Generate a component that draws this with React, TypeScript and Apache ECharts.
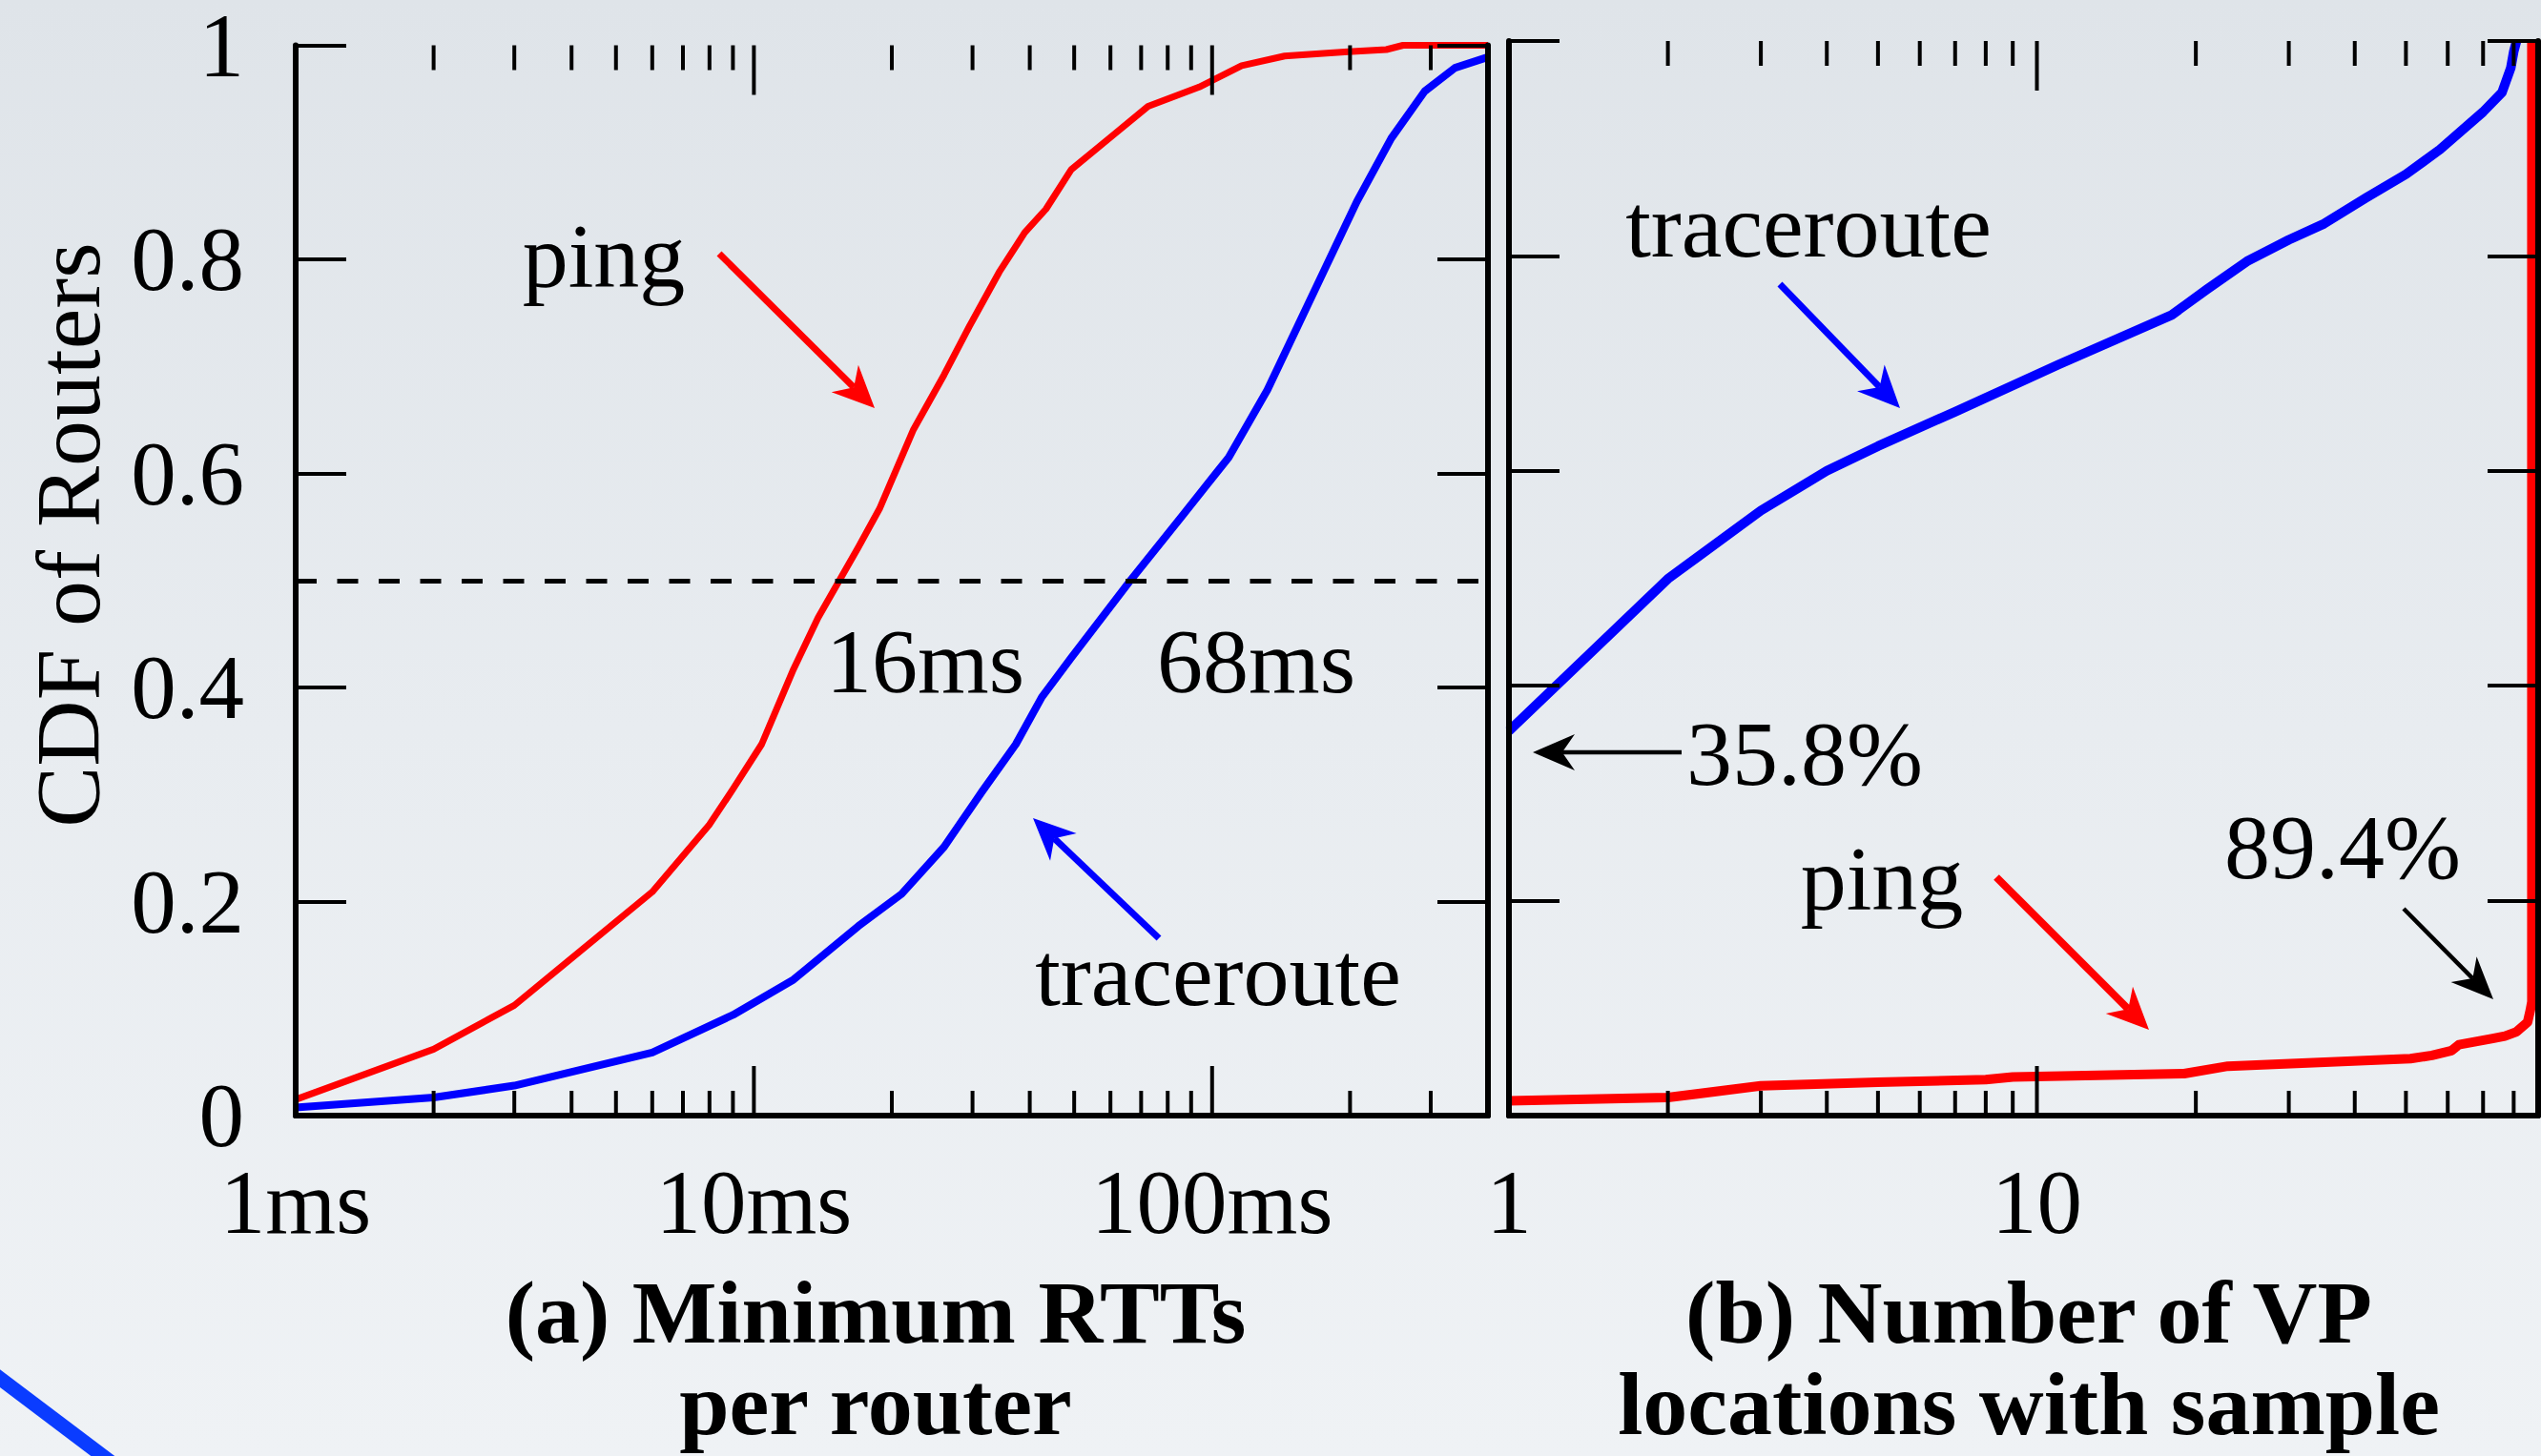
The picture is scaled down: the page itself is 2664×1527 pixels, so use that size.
import React, { useEffect, useRef } from 'react';
import * as echarts from 'echarts';

const FONT = "'Liberation Serif', 'Times New Roman', serif";
const RED = '#ff0000';
const BLUE = '#0000ff';

// (a) Minimum RTTs per router (ms -> CDF)
const rttTickLabels = ['1ms', '10ms', '100ms'];
const rttMajorTicks = [10, 100];
const rttMinorTicks = [2, 3, 4, 5, 6, 7, 8, 9, 20, 30, 40, 50, 60, 70, 80, 90, 200, 300];
const pingRttMs = [1, 2, 3, 6, 8, 9, 10.4, 12.2, 13.8, 16.9, 18.8, 22.3, 26, 29.5, 34.3, 39, 43.4, 49.3, 61.2, 72.5, 93.7, 116, 144, 198, 240, 261, 400];
const pingRttCdf = [0.015, 0.062, 0.103, 0.209, 0.272, 0.305, 0.347, 0.417, 0.465, 0.531, 0.567, 0.641, 0.692, 0.737, 0.788, 0.825, 0.847, 0.884, 0.917, 0.943, 0.961, 0.981, 0.99, 0.994, 0.996, 1.0, 1.0];
const traceRttMs = [1, 2, 3, 6, 9, 12.2, 16.9, 21, 26, 31.5, 37.3, 42.5, 49.3, 66.6, 85.9, 108.7, 132, 153.5, 178, 207, 246, 291, 339, 400];
const traceRttCdf = [0.0075, 0.017, 0.028, 0.059, 0.094, 0.127, 0.177, 0.207, 0.251, 0.303, 0.347, 0.391, 0.428, 0.501, 0.56, 0.615, 0.678, 0.737, 0.795, 0.854, 0.913, 0.957, 0.979, 0.989];
const medianLevel = 0.5;

// (b) Number of VP locations with sample (count -> CDF)
const vpTickLabels = ['1', '10'];
const vpMajorTicks = [10];
const vpMinorTicks = [2, 3, 4, 5, 6, 7, 8, 9, 20, 30, 40, 50, 60, 70, 80];
const traceVpCount = [1, 2, 3, 4, 5, 7, 11, 18, 21, 25, 30, 35, 42, 50, 58, 70, 76, 79, 80, 81];
const traceVpCdf = [0.358, 0.4995, 0.563, 0.6, 0.623, 0.655, 0.699, 0.745, 0.769, 0.795, 0.815, 0.83, 0.854, 0.876, 0.899, 0.934, 0.952, 0.975, 0.99, 1.0];
const pingVpCount = [1, 2, 3, 5, 8, 9, 19, 23, 51, 56, 61, 63, 73, 77, 81, 85, 86, 86.6, 86.6];
const pingVpCdf = [0.0137, 0.0168, 0.0277, 0.031, 0.0335, 0.036, 0.039, 0.046, 0.053, 0.056, 0.0605, 0.066, 0.0717, 0.074, 0.078, 0.087, 0.098, 0.106, 1.0];

const yTickLabels = ['0', '0.2', '0.4', '0.6', '0.8', '1'];

const zip = (xs: number[], ys: number[]) => xs.map((x, i) => [x, ys[i]]);

function arrow(x1: number, y1: number, x2: number, y2: number, color: string, width: number, headLen: number, headHalf: number) {
  const dx = x2 - x1;
  const dy = y2 - y1;
  const L = Math.hypot(dx, dy);
  const ux = dx / L;
  const uy = dy / L;
  const nx = -uy;
  const ny = ux;
  const bx = x2 - ux * headLen;
  const by = y2 - uy * headLen;
  const kx = x2 - ux * headLen * 0.7;
  const ky = y2 - uy * headLen * 0.7;
  return [
    { type: 'line', z: 20, shape: { x1, y1, x2: kx, y2: ky }, style: { stroke: color, lineWidth: width } },
    {
      type: 'polygon', z: 20,
      shape: { points: [[x2, y2], [bx + nx * headHalf, by + ny * headHalf], [kx, ky], [bx - nx * headHalf, by - ny * headHalf]] },
      style: { fill: color },
    },
  ];
}

function label(text: string, x: number, y: number, opts: any = {}) {
  return {
    type: 'text', z: 20, x, y, rotation: opts.rotation || 0,
    style: {
      text, fill: '#000', fontFamily: FONT, fontSize: opts.size || 96, fontWeight: opts.bold ? 'bold' : 'normal',
      lineHeight: opts.lineHeight, align: 'center', verticalAlign: 'middle',
    },
  };
}

function xAxisCfg(gridIndex: number, position: 'top' | 'bottom', max: number, labels: string[] | null) {
  return {
    type: 'log', logBase: 10, gridIndex, position, min: 1, max, z: 3,
    axisLine: { show: true, lineStyle: { color: '#000', width: 6 } },
    axisTick: { show: false },
    splitLine: { show: false },
    axisLabel: labels
      ? {
          show: true, fontSize: 95, fontFamily: FONT, color: '#000', margin: 91, verticalAlign: 'middle',
          showMaxLabel: false, showMinLabel: true,
          formatter: (v: number) => labels[Math.round(Math.log10(v))] ?? '',
        }
      : { show: false },
  };
}

function yAxisCfg(gridIndex: number, position: 'left' | 'right', showLabels: boolean) {
  return {
    type: 'value', gridIndex, position, min: 0, max: 1, interval: 0.2, z: 3,
    axisLine: { show: true, lineStyle: { color: '#000', width: 6 } },
    axisTick: { show: true, inside: true, length: 53, lineStyle: { color: '#000', width: 4 } },
    splitLine: { show: false },
    axisLabel: showLabels
      ? {
          show: true, fontSize: 95, fontFamily: FONT, color: '#000', margin: 54, align: 'right',
          verticalAlign: 'middle', lineHeight: 95, padding: [0, 0, -18, 0],
          formatter: (v: number) => yTickLabels[Math.round(v / 0.2)] ?? '',
        }
      : { show: false },
  };
}

// x-axis ticks (bottom and top, pointing inward) placed through the log axis scale
function xTickSeries(xAxisIndex: number, yAxisIndex: number, ticks: number[], len: number) {
  return {
    type: 'custom', xAxisIndex, yAxisIndex, clip: false, silent: true, z: 5,
    data: ticks.map((t) => [t, 0]),
    encode: { x: 0, y: 1 },
    renderItem: (_p: any, api: any) => {
      const v = api.value(0);
      const b = api.coord([v, 0]);
      const t = api.coord([v, 1]);
      return {
        type: 'group',
        children: [
          { type: 'line', shape: { x1: b[0], y1: b[1], x2: b[0], y2: b[1] - len }, style: { stroke: '#000', lineWidth: 4 } },
          { type: 'line', shape: { x1: t[0], y1: t[1], x2: t[0], y2: t[1] + len }, style: { stroke: '#000', lineWidth: 4 } },
        ],
      };
    },
  };
}

export default function App() {
  const ref = useRef<HTMLDivElement>(null);
  useEffect(() => {
    if (!ref.current) return;
    const chart = echarts.init(ref.current, null, { renderer: 'svg' });
    const option: any = {
      animation: false,
      backgroundColor: 'transparent',
      textStyle: { fontFamily: FONT },
      grid: [
        { left: 310, top: 43, width: 1250, height: 1127, containLabel: false },
        { left: 1582, top: 43, width: 1079, height: 1127, containLabel: false },
      ],
      xAxis: [
        xAxisCfg(0, 'bottom', 400, rttTickLabels),
        xAxisCfg(0, 'top', 400, null),
        xAxisCfg(1, 'bottom', 89, vpTickLabels),
        xAxisCfg(1, 'top', 89, null),
      ],
      yAxis: [yAxisCfg(0, 'left', true), yAxisCfg(0, 'right', false), yAxisCfg(1, 'left', false), yAxisCfg(1, 'right', false)],
      series: [
        {
          name: 'ping', type: 'line', xAxisIndex: 0, yAxisIndex: 0, data: zip(pingRttMs, pingRttCdf),
          showSymbol: false, clip: false, z: 2,
          lineStyle: { color: RED, width: 7, join: 'round' }, itemStyle: { color: RED },
          markLine: {
            silent: true, symbol: 'none', label: { show: false },
            lineStyle: { color: '#000', width: 5, type: [22, 21.5] },
            data: [{ yAxis: medianLevel }],
          },
        },
        {
          name: 'traceroute', type: 'line', xAxisIndex: 0, yAxisIndex: 0, data: zip(traceRttMs, traceRttCdf),
          showSymbol: false, clip: false, z: 2,
          lineStyle: { color: BLUE, width: 8, join: 'round' }, itemStyle: { color: BLUE },
        },
        xTickSeries(0, 0, rttMajorTicks, 52),
        xTickSeries(0, 0, rttMinorTicks, 26),
        {
          name: 'traceroute VP', type: 'line', xAxisIndex: 2, yAxisIndex: 2, data: zip(traceVpCount, traceVpCdf),
          showSymbol: false, clip: false, z: 2, lineStyle: { color: BLUE, width: 10, join: 'round' }, itemStyle: { color: BLUE },
        },
        {
          name: 'ping VP', type: 'line', xAxisIndex: 2, yAxisIndex: 2, data: zip(pingVpCount, pingVpCdf),
          showSymbol: false, clip: false, z: 2, lineStyle: { color: RED, width: 10, join: 'round' }, itemStyle: { color: RED },
        },
        xTickSeries(2, 2, vpMajorTicks, 52),
        xTickSeries(2, 2, vpMinorTicks, 26),
      ],
      graphic: [
        { type: 'line', z: 1, shape: { x1: -10, y1: 1438, x2: 125, y2: 1540 }, style: { stroke: '#0a3cff', lineWidth: 15 } },
        label('CDF of Routers', 71, 561, { rotation: Math.PI / 2 }),
        label('ping', 633, 268),
        label('16ms', 970, 693),
        label('68ms', 1317, 693),
        label('traceroute', 1277, 1021),
        label('traceroute', 1896, 236),
        label('35.8%', 1892, 790),
        label('ping', 1973, 921),
        label('89.4%', 2456, 888),
        label('(a) Minimum RTTs\nper router', 918, 1424, { bold: true, size: 94, lineHeight: 96 }),
        label('(b) Number of VP\nlocations with sample', 2127, 1424, { bold: true, size: 94, lineHeight: 96 }),
        ...arrow(754, 266, 917, 428, RED, 7, 44, 20),
        ...arrow(1215, 984, 1083, 858, BLUE, 7, 44, 20),
        ...arrow(1866, 298, 1992, 428, BLUE, 7, 44, 20),
        ...arrow(1763, 789, 1607, 789, '#000', 4.5, 44, 19),
        ...arrow(2093, 920, 2253, 1080, RED, 8, 44, 20),
        ...arrow(2520, 953, 2614, 1048, '#000', 4.5, 44, 19),
      ],
    };
    chart.setOption(option);
    return () => chart.dispose();
  }, []);
  return (
    <div
      style={{
        position: 'fixed', left: 0, top: 0, width: 2664, height: 1527, overflow: 'hidden',
        background: 'linear-gradient(180deg, #dfe4e9 0%, #e8ecf0 50%, #eff2f5 100%)',
      }}
    >
      <div ref={ref} style={{ width: 2664, height: 1527 }} />
    </div>
  );
}
